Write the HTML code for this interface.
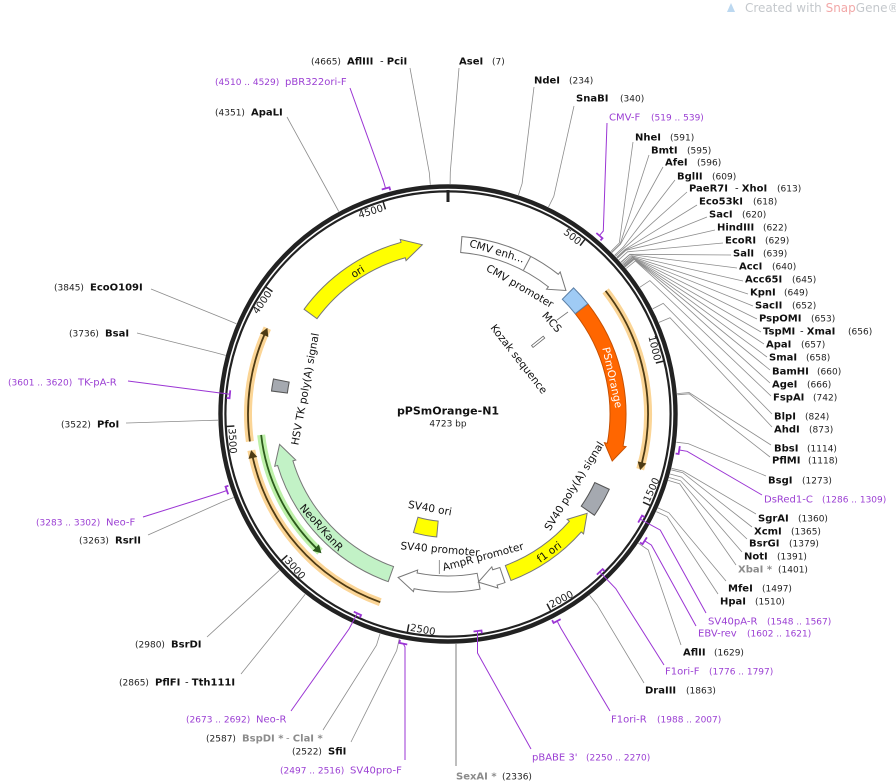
<!DOCTYPE html>
<html><head><meta charset="utf-8">
<style>
html,body{margin:0;padding:0;background:#fff}
svg{display:block}
text{font-family:"DejaVu Sans","Liberation Sans",sans-serif}
.n{font-size:10px;font-weight:bold;fill:#111}
.p{font-size:9px;fill:#222}
.pr{font-size:10px;fill:#9b3fd3}
.pp{font-size:9px;fill:#9b3fd3}
.g{font-size:10px;font-weight:bold;fill:#8c8c8c}
.f{font-size:10.5px;fill:#111}
.t{font-size:10px;fill:#222}
</style></head>
<body>
<svg width="896" height="784" viewBox="0 0 896 784" xmlns="http://www.w3.org/2000/svg">
<rect width="896" height="784" fill="#fff"/>

<!-- watermark -->
<path d="M727,12 L731,3 L735,12 Z" fill="#bcd8f0"/>
<text x="745" y="12" style="font-size:12px;fill:#c4c8cc">Created with <tspan style="fill:#f2a8a8">Snap</tspan>Gene®</text>

<!-- ORF halos and lines -->
<g fill="none">
  <circle cx="448" cy="414" r="200" stroke="#fbd596" stroke-width="8" stroke-dasharray="188.5 3000" transform="rotate(-38 448 414)"/>
  <circle cx="448" cy="414" r="200" stroke="#fbd596" stroke-width="8" stroke-dasharray="208.4 3000" transform="rotate(109.8 448 414)"/>
  <circle cx="448" cy="414" r="200" stroke="#fbd596" stroke-width="8" stroke-dasharray="116.2 3000" transform="rotate(172.1 448 414)"/>
  <circle cx="448" cy="414" r="188" stroke="#bdf0a8" stroke-width="8" stroke-dasharray="133.5 3000" transform="rotate(132.9 448 414)"/>
  <circle cx="448" cy="414" r="200" stroke="#4d3a14" stroke-width="1.8" stroke-dasharray="182.6 3000" transform="rotate(-38 448 414)"/>
  <circle cx="448" cy="414" r="200" stroke="#4d3a14" stroke-width="1.8" stroke-dasharray="201.8 3000" transform="rotate(109.8 448 414)"/>
  <circle cx="448" cy="414" r="200" stroke="#4d3a14" stroke-width="1.8" stroke-dasharray="109.6 3000" transform="rotate(172.1 448 414)"/>
  <circle cx="448" cy="414" r="188" stroke="#2c5a1c" stroke-width="1.8" stroke-dasharray="128.6 3000" transform="rotate(134.4 448 414)"/>
</g>
<path d="M447,209.5 L455,214 L447,218.5 Z" fill="#4d3a14" transform="rotate(104.3 448 414)"/>
<path d="M447,209.5 L455,214 L447,218.5 Z" fill="#4d3a14" transform="rotate(257.6 448 414)"/>
<path d="M447,209.5 L455,214 L447,218.5 Z" fill="#4d3a14" transform="rotate(293.5 448 414)"/>
<path d="M449,221.5 L441,226 L449,230.5 Z" fill="#2c5a1c" transform="rotate(224.4 448 414)"/>

<!-- Features -->
<g fill="none">
  <!-- CMV -->
  <circle cx="448" cy="414" r="170" stroke="#777" stroke-width="17" stroke-dasharray="100.85 3000" transform="rotate(-85.69 448 414)"/>
  <circle cx="448" cy="414" r="170" stroke="#fff" stroke-width="15" stroke-dasharray="100.44 3000" transform="rotate(-85.35 448 414)"/>
  <!-- ori -->
  <circle cx="448" cy="414" r="170" stroke="#777" stroke-width="17" stroke-dasharray="115.24 3000" transform="rotate(215.86 448 414)"/>
  <circle cx="448" cy="414" r="170" stroke="#ffff00" stroke-width="15" stroke-dasharray="114.83 3000" transform="rotate(216.2 448 414)"/>
  <!-- PSmOrange -->
  <circle cx="448" cy="414" r="170" stroke="#c85000" stroke-width="17" stroke-dasharray="144.79 3000" transform="rotate(-38.4 448 414)"/>
  <circle cx="448" cy="414" r="170" stroke="#ff6600" stroke-width="15" stroke-dasharray="144.35 3000" transform="rotate(-38.05 448 414)"/>
  <!-- MCS -->
  <circle cx="448" cy="414" r="170" stroke="#5b7fa6" stroke-width="17" stroke-dasharray="21.45 3000" transform="rotate(-45.29 448 414)"/>
  <circle cx="448" cy="414" r="170" stroke="#9fcbf5" stroke-width="15" stroke-dasharray="19.43 3000" transform="rotate(-44.95 448 414)"/>
  <!-- SV40 polyA -->
  <circle cx="448" cy="414" r="170" stroke="#555" stroke-width="17" stroke-dasharray="29.61 3000" transform="rotate(24.86 448 414)"/>
  <circle cx="448" cy="414" r="170" stroke="#a5a9b0" stroke-width="15" stroke-dasharray="27.59 3000" transform="rotate(25.2 448 414)"/>
  <!-- f1 ori -->
  <circle cx="448" cy="414" r="170" stroke="#777" stroke-width="17" stroke-dasharray="82.90 3000" transform="rotate(41.5 448 414)"/>
  <circle cx="448" cy="414" r="170" stroke="#ffff00" stroke-width="15" stroke-dasharray="82.49 3000" transform="rotate(41.3 448 414)"/>
  <!-- SV40 promoter -->
  <circle cx="448" cy="414" r="170" stroke="#777" stroke-width="17" stroke-dasharray="63.91 3000" transform="rotate(79.46 448 414)"/>
  <circle cx="448" cy="414" r="170" stroke="#fff" stroke-width="15" stroke-dasharray="63.50 3000" transform="rotate(79.8 448 414)"/>
  <!-- AmpR promoter -->
  <circle cx="448" cy="414" r="170" stroke="#777" stroke-width="17" stroke-dasharray="8.43 3000" transform="rotate(71.16 448 414)"/>
  <circle cx="448" cy="414" r="170" stroke="#fff" stroke-width="15" stroke-dasharray="8.01 3000" transform="rotate(71.5 448 414)"/>
  <!-- NeoR/KanR -->
  <circle cx="448" cy="414" r="170" stroke="#777" stroke-width="17" stroke-dasharray="159.45 3000" transform="rotate(109.46 448 414)"/>
  <circle cx="448" cy="414" r="170" stroke="#c2f2c6" stroke-width="15" stroke-dasharray="159.04 3000" transform="rotate(109.8 448 414)"/>
  <!-- HSV TK polyA -->
  <circle cx="448" cy="414" r="170" stroke="#555" stroke-width="17" stroke-dasharray="12.70 3000" transform="rotate(187.26 448 414)"/>
  <circle cx="448" cy="414" r="170" stroke="#a5a9b0" stroke-width="15" stroke-dasharray="10.68 3000" transform="rotate(187.6 448 414)"/>
  <!-- SV40 ori -->
  <circle cx="448" cy="414" r="115.5" stroke="#777" stroke-width="17" stroke-dasharray="23.18 3000" transform="rotate(95 448 414)"/>
  <circle cx="448" cy="414" r="115.5" stroke="#ffff00" stroke-width="15" stroke-dasharray="21.17 3000" transform="rotate(95.5 448 414)"/>
</g>
<!-- arrowheads -->
<path d="M448,236.5 L448,233 L464,244 L448,255 L448,251.5" fill="#fff" stroke="#777" stroke-width="1" transform="rotate(38.3 448 414)"/>
<line x1="448" y1="236.5" x2="448" y2="251.5" stroke="#777" stroke-width="1" transform="rotate(27.7 448 414)"/>
<path d="M448,236.5 L448,233 L467.9,244 L448,255 L448,251.5" fill="#ffff00" stroke="#777" stroke-width="1" transform="rotate(344.7 448 414)"/>
<path d="M448,236.5 L448,233 L464.6,244 L448,255 L448,251.5" fill="#ff6600" stroke="#c85000" stroke-width="1" transform="rotate(100.4 448 414)"/>
<path d="M448,236.5 L448,233 L430.2,244 L448,255 L448,251.5" fill="#ffff00" stroke="#777" stroke-width="1" transform="rotate(131.5 448 414)"/>
<path d="M448,236.5 L448,233 L465.8,244 L448,255 L448,251.5" fill="#fff" stroke="#777" stroke-width="1" transform="rotate(191 448 414)"/>
<path d="M448,236.5 L448,233 L465.2,244 L448,255 L448,251.5" fill="#fff" stroke="#777" stroke-width="1" transform="rotate(164 448 414)"/>
<path d="M448,236.5 L448,233 L467.6,244 L448,255 L448,251.5" fill="#c2f2c6" stroke="#777" stroke-width="1" transform="rotate(253.2 448 414)"/>
<!-- Kozak -->
<rect x="446.8" y="291" width="2.4" height="15" fill="#fff" stroke="#666" stroke-width="0.8" transform="rotate(51.3 448 414)"/>
<!-- small leaders -->
<line x1="557" y1="320" x2="568" y2="312" stroke="#777" stroke-width="0.8"/>
<line x1="439.3" y1="560" x2="439.3" y2="574" stroke="#777" stroke-width="0.8"/>

<!-- ring -->
<circle cx="448" cy="414" r="227.5" fill="none" stroke="#222" stroke-width="4.4"/>
<circle cx="448" cy="414" r="222.6" fill="none" stroke="#222" stroke-width="2.2"/>
<line x1="448" y1="190" x2="448" y2="202" stroke="#222" stroke-width="3"/>

<!-- ticks upright -->
<g transform="rotate(38.11 448 414)"><line x1="448" y1="192" x2="448" y2="200" stroke="#222" stroke-width="1.5"/><text class="t" x="446" y="201" text-anchor="end">500</text></g>
<g transform="rotate(76.22 448 414)"><line x1="448" y1="192" x2="448" y2="200" stroke="#222" stroke-width="1.5"/><text class="t" x="446" y="201" text-anchor="end">1000</text></g>
<g transform="rotate(-55.11 448 414)"><line x1="448" y1="192" x2="448" y2="200" stroke="#222" stroke-width="1.5"/><text class="t" x="446" y="201" text-anchor="end">4000</text></g>
<g transform="rotate(-17 448 414)"><line x1="448" y1="192" x2="448" y2="200" stroke="#222" stroke-width="1.5"/><text class="t" x="446" y="201" text-anchor="end">4500</text></g>
<!-- ticks flipped -->
<g transform="rotate(-65.67 448 414)"><line x1="448" y1="628" x2="448" y2="636" stroke="#222" stroke-width="1.5"/><text class="t" x="450" y="634">1500</text></g>
<g transform="rotate(-27.56 448 414)"><line x1="448" y1="628" x2="448" y2="636" stroke="#222" stroke-width="1.5"/><text class="t" x="450" y="634">2000</text></g>
<g transform="rotate(10.55 448 414)"><line x1="448" y1="628" x2="448" y2="636" stroke="#222" stroke-width="1.5"/><text class="t" x="450" y="634">2500</text></g>
<g transform="rotate(48.66 448 414)"><line x1="448" y1="628" x2="448" y2="636" stroke="#222" stroke-width="1.5"/><text class="t" x="450" y="634">3000</text></g>
<g transform="rotate(86.77 448 414)"><line x1="448" y1="628" x2="448" y2="636" stroke="#222" stroke-width="1.5"/><text class="t" x="450" y="634">3500</text></g>

<!-- enzyme leader lines -->
<g fill="none" stroke="#8c8c8c" stroke-width="0.8">
<polyline points="430.3,184.7 429.3,172.7 410,68"/>
<polyline points="450.1,184 450.3,172 459,68"/>
<polyline points="518.4,195.1 522.1,183.6 534,87"/>
<polyline points="548.5,207.1 553.8,196.4 574,106"/>
<polyline points="338.8,211.6 333.1,201.0 287,117"/>
<polyline points="610.8,251.5 619.3,243.0 633,142"/>
<polyline points="611.6,252.4 620.2,243.9 649,155"/>
<polyline points="611.8,252.6 620.4,244.2 663,167"/>
<polyline points="614.6,255.4 623.3,247.1 675,180"/>
<polyline points="615.4,256.3 624.2,248.1 687,192"/>
<polyline points="616.5,257.4 625.3,249.3 697,205"/>
<polyline points="616.9,257.9 625.7,249.7 707,217"/>
<polyline points="617.3,258.3 626.1,250.2 715,230"/>
<polyline points="618.7,259.9 627.6,251.8 723,243"/>
<polyline points="620.8,262.2 629.8,254.3 731,255"/>
<polyline points="621.0,262.4 630.0,254.5 737,268"/>
<polyline points="622.0,263.6 631.0,255.7 743,281"/>
<polyline points="622.8,264.5 631.9,256.7 748,294"/>
<polyline points="623.4,265.2 632.5,257.5 753,306"/>
<polyline points="623.6,265.4 632.7,257.7 757,319"/>
<polyline points="624.2,266.2 633.4,258.4 761,332"/>
<polyline points="624.4,266.4 633.6,258.7 764,344"/>
<polyline points="624.6,266.6 633.8,258.9 767,357"/>
<polyline points="625.0,267.1 634.2,259.4 770,370"/>
<polyline points="626.1,268.5 635.4,260.9 770,383"/>
<polyline points="639.9,287.2 649.9,280.6 771,396"/>
<polyline points="652.6,308.9 663.2,303.4 772,414"/>
<polyline points="659.0,322.4 670.0,317.7 772,427"/>
<polyline points="677.1,393.6 689.1,392.5 771,445"/>
<polyline points="677.2,394.8 689.2,393.8 770,457"/>
<polyline points="676.3,442.2 688.2,443.6 766,476"/>
<polyline points="671.5,468.3 683.2,471.1 756,514"/>
<polyline points="671.1,469.8 682.8,472.7 752,527"/>
<polyline points="670.0,474.0 681.6,477.1 747,539"/>
<polyline points="669.1,477.5 680.6,480.8 742,552"/>
<polyline points="668.2,480.4 679.7,483.9 736,565"/>
<polyline points="657.9,507.9 668.9,512.8 726,581"/>
<polyline points="656.3,511.6 667.2,516.7 718,594"/>
<polyline points="638.3,543.2 648.2,549.9 681,645"/>
<polyline points="589.6,595.2 597.0,604.7 644,683"/>
<polyline points="399.3,638.8 396.7,650.5 351,742"/>
<polyline points="380.0,633.7 376.5,645.2 323,730"/>
<polyline points="305.2,594.3 297.7,603.7 241,674"/>
<polyline points="279.4,570.4 270.6,578.6 207,637"/>
<polyline points="233.7,497.5 222.5,501.9 148,535"/>
<polyline points="218.1,420.2 206.1,420.5 126,423"/>
<polyline points="225.6,355.4 214.0,352.3 137,333"/>
<polyline points="236.4,323.8 225.4,319.1 151,289"/>
</g>
<line x1="456" y1="644" x2="456" y2="766" stroke="#a8a8a8" stroke-width="1.5"/>

<!-- primer lines -->
<g fill="none" stroke="#9b35d4" stroke-width="1">
<polyline points="599.4,235.6 603.3,231 607,123"/>
<polyline points="385.6,188.5 383.4,180.8 350,88"/>
<polyline points="679.2,450 687.1,451.3 762,495"/>
<polyline points="640.1,519.1 660.3,530.1 706,613"/>
<polyline points="644.7,540.8 651.4,545.1 696,626"/>
<polyline points="599.7,571.9 615.7,588.5 664,665"/>
<polyline points="557.1,621.0 560.8,628.1 610,711"/>
<polyline points="477.5,631 477.5,653 531,749"/>
<polyline points="403.3,643.7 405,647 405,760"/>
<polyline points="357.4,613.4 349,629 291,711"/>
<polyline points="226.9,490.5 219.3,493.1 143,517"/>
<polyline points="229.9,394.3 128,381"/>
</g>
<!-- primer brackets -->
<g fill="none" stroke="#9b35d4" stroke-width="1.8">
<path d="M444,180 L452,180 L452,183" transform="rotate(40.32 448 414)"/>
<path d="M444,180 L452,180 L452,183" transform="rotate(344.53 448 414)"/>
<path d="M444,180 L452,180 L452,183" transform="rotate(98.86 448 414)"/>
<path d="M444,192 L444,195 L452,195" transform="rotate(118.68 448 414)"/>
<path d="M444,180 L452,180 L452,183" transform="rotate(122.79 448 414)"/>
<path d="M444,192 L444,195 L452,195" transform="rotate(136.13 448 414)"/>
<path d="M444,180 L452,180 L452,183" transform="rotate(152.21 448 414)"/>
<path d="M444,192 L444,195 L452,195" transform="rotate(172.26 448 414)"/>
<path d="M444,180 L452,180 L452,183" transform="rotate(191.01 448 414)"/>
<path d="M444,192 L444,195 L452,195" transform="rotate(204.43 448 414)"/>
<path d="M444,180 L452,180 L452,183" transform="rotate(250.92 448 414)"/>
<path d="M444,192 L444,195 L452,195" transform="rotate(275.17 448 414)"/>
</g>

<!-- feature labels -->
<text class="f" x="497" y="251" dy=".35em" text-anchor="middle" transform="rotate(16.7 497 251)">CMV enh...</text>
<text class="f" x="520" y="286" dy=".35em" text-anchor="middle" transform="rotate(30 520 286)">CMV promoter</text>
<text class="f" x="552" y="322" dy=".35em" text-anchor="middle" transform="rotate(48 552 322)">MCS</text>
<text class="f" x="519" y="359" dy=".35em" text-anchor="middle" transform="rotate(52 519 359)">Kozak sequence</text>
<text class="f" x="612.5" y="377.5" dy=".35em" text-anchor="middle" transform="rotate(77.6 612.5 377.5)" style="fill:#fff">PSmOrange</text>
<text class="f" x="574" y="486" dy=".35em" text-anchor="middle" transform="rotate(-58 574 486)">SV40 poly(A) signal</text>
<text class="f" x="549" y="552" dy=".35em" text-anchor="middle" transform="rotate(-36 549 552)">f1 ori</text>
<text class="f" x="483" y="556.5" dy=".35em" text-anchor="middle" transform="rotate(-15 483 556.5)">AmpR promoter</text>
<text class="f" x="440" y="549" dy=".35em" text-anchor="middle" transform="rotate(5 440 549)">SV40 promoter</text>
<text class="f" x="430" y="508" dy=".35em" text-anchor="middle" transform="rotate(10 430 508)">SV40 ori</text>
<text class="f" x="321.5" y="527.5" dy=".35em" text-anchor="middle" transform="rotate(48 321.5 527.5)">NeoR/KanR</text>
<text class="f" x="305" y="389" dy=".35em" text-anchor="middle" transform="rotate(-79.5 305 389)">HSV TK poly(A) signal</text>
<text class="f" x="357.5" y="271.5" dy=".35em" text-anchor="middle" transform="rotate(-32.5 357.5 271.5)">ori</text>

<!-- center -->
<text x="448" y="414.5" text-anchor="middle" style="font-size:11px;font-weight:bold;fill:#111">pPSmOrange-N1</text>
<text x="448" y="426.7" text-anchor="middle" style="font-size:9px;fill:#222">4723 bp</text>

<!-- right labels -->
<text class="n" x="459" y="64.5">AseI</text><text class="p" x="492" y="64.5">(7)</text>
<text class="n" x="534" y="83.5">NdeI</text><text class="p" x="569" y="83.5">(234)</text>
<text class="n" x="576" y="101.5">SnaBI</text><text class="p" x="620" y="101.5">(340)</text>
<text class="pr" x="609" y="120.5">CMV-F</text><text class="pp" x="651" y="120.5">(519 .. 539)</text>
<text class="n" x="635" y="140.5">NheI</text><text class="p" x="670" y="140.5">(591)</text>
<text class="n" x="651" y="153.5">BmtI</text><text class="p" x="687" y="153.5">(595)</text>
<text class="n" x="665" y="165.5">AfeI</text><text class="p" x="697" y="165.5">(596)</text>
<text class="n" x="677" y="179.5">BglII</text><text class="p" x="712" y="179.5">(609)</text>
<text class="n" x="689" y="191.5">PaeR7I</text><text class="n" x="735" y="191.5"><tspan style="font-weight:normal">- </tspan>XhoI</text><text class="p" x="777" y="191.5">(613)</text>
<text class="n" x="699" y="204.5">Eco53kI</text><text class="p" x="753" y="204.5">(618)</text>
<text class="n" x="709" y="217.5">SacI</text><text class="p" x="742" y="217.5">(620)</text>
<text class="n" x="717" y="230.5">HindIII</text><text class="p" x="763" y="230.5">(622)</text>
<text class="n" x="725" y="243.5">EcoRI</text><text class="p" x="765" y="243.5">(629)</text>
<text class="n" x="733" y="256.5">SalI</text><text class="p" x="763" y="256.5">(639)</text>
<text class="n" x="739" y="269.5">AccI</text><text class="p" x="772" y="269.5">(640)</text>
<text class="n" x="745" y="282.5">Acc65I</text><text class="p" x="792" y="282.5">(645)</text>
<text class="n" x="750" y="295.5">KpnI</text><text class="p" x="784" y="295.5">(649)</text>
<text class="n" x="755" y="308.5">SacII</text><text class="p" x="792" y="308.5">(652)</text>
<text class="n" x="759" y="321.5">PspOMI</text><text class="p" x="811" y="321.5">(653)</text>
<text class="n" x="763" y="334.5">TspMI</text><text class="n" x="800" y="334.5"><tspan style="font-weight:normal">- </tspan>XmaI</text><text class="p" x="848" y="334.5">(656)</text>
<text class="n" x="766" y="347.5">ApaI</text><text class="p" x="801" y="347.5">(657)</text>
<text class="n" x="769" y="360.5">SmaI</text><text class="p" x="806" y="360.5">(658)</text>
<text class="n" x="772" y="374.5">BamHI</text><text class="p" x="817" y="374.5">(660)</text>
<text class="n" x="772" y="387.5">AgeI</text><text class="p" x="807" y="387.5">(666)</text>
<text class="n" x="773" y="400.5">FspAI</text><text class="p" x="813" y="400.5">(742)</text>
<text class="n" x="774" y="419.5">BlpI</text><text class="p" x="805" y="419.5">(824)</text>
<text class="n" x="774" y="432.5">AhdI</text><text class="p" x="809" y="432.5">(873)</text>
<text class="n" x="774" y="451.5">BbsI</text><text class="p" x="807" y="451.5">(1114)</text>
<text class="n" x="772" y="463.5">PflMI</text><text class="p" x="808" y="463.5">(1118)</text>
<text class="n" x="768" y="483.5">BsgI</text><text class="p" x="802" y="483.5">(1273)</text>
<text class="pr" x="764" y="502.5">DsRed1-C</text><text class="pp" x="822" y="502.5">(1286 .. 1309)</text>
<text class="n" x="758" y="521.5">SgrAI</text><text class="p" x="798" y="521.5">(1360)</text>
<text class="n" x="754" y="534.5">XcmI</text><text class="p" x="791" y="534.5">(1365)</text>
<text class="n" x="749" y="546.5">BsrGI</text><text class="p" x="789" y="546.5">(1379)</text>
<text class="n" x="744" y="559.5">NotI</text><text class="p" x="777" y="559.5">(1391)</text>
<text class="g" x="738" y="572.5">XbaI *</text><text class="p" x="778" y="572.5">(1401)</text>
<text class="n" x="728" y="591.5">MfeI</text><text class="p" x="762" y="591.5">(1497)</text>
<text class="n" x="720" y="604.5">HpaI</text><text class="p" x="755" y="604.5">(1510)</text>
<text class="pr" x="708" y="624.5">SV40pA-R</text><text class="pp" x="767" y="624.5">(1548 .. 1567)</text>
<text class="pr" x="698" y="636.5">EBV-rev</text><text class="pp" x="747" y="636.5">(1602 .. 1621)</text>
<text class="n" x="683" y="655.5">AflII</text><text class="p" x="714" y="655.5">(1629)</text>
<text class="pr" x="665" y="674.5">F1ori-F</text><text class="pp" x="709" y="674.5">(1776 .. 1797)</text>
<text class="n" x="645" y="693.5">DraIII</text><text class="p" x="686" y="693.5">(1863)</text>
<text class="pr" x="611" y="722.5">F1ori-R</text><text class="pp" x="657" y="722.5">(1988 .. 2007)</text>
<text class="pr" x="532" y="760.5">pBABE 3'</text><text class="pp" x="586" y="760.5">(2250 .. 2270)</text>
<text class="g" x="456" y="779.5">SexAI *</text><text class="p" x="502" y="779.5">(2336)</text>

<!-- left labels -->
<text class="p" x="311" y="64.5">(4665)</text><text class="n" x="347" y="64.5">AflIII</text><text class="n" x="380" y="64.5"><tspan style="font-weight:normal">- </tspan>PciI</text>
<text class="pp" x="215" y="85">(4510 .. 4529)</text><text class="pr" x="285" y="85">pBR322ori-F</text>
<text class="p" x="215" y="115.5">(4351)</text><text class="n" x="251" y="115.5">ApaLI</text>
<text class="p" x="54" y="290.5">(3845)</text><text class="n" x="90" y="290.5">EcoO109I</text>
<text class="p" x="69" y="336.5">(3736)</text><text class="n" x="105" y="336.5">BsaI</text>
<text class="pp" x="8" y="385.5">(3601 .. 3620)</text><text class="pr" x="78" y="385.5">TK-pA-R</text>
<text class="p" x="61" y="427.5">(3522)</text><text class="n" x="97" y="427.5">PfoI</text>
<text class="pp" x="36" y="525.5">(3283 .. 3302)</text><text class="pr" x="106" y="525.5">Neo-F</text>
<text class="p" x="79" y="543.5">(3263)</text><text class="n" x="115" y="543.5">RsrII</text>
<text class="p" x="135" y="647.5">(2980)</text><text class="n" x="171" y="647.5">BsrDI</text>
<text class="p" x="119" y="685.5">(2865)</text><text class="n" x="155" y="685.5">PflFI</text><text class="n" x="185" y="685.5"><tspan style="font-weight:normal">- </tspan>Tth111I</text>
<text class="pp" x="186" y="722.5">(2673 .. 2692)</text><text class="pr" x="256" y="722.5">Neo-R</text>
<text class="p" x="206" y="741.5">(2587)</text><text class="g" x="242" y="741.5">BspDI *</text><text class="g" x="286" y="741.5"><tspan style="font-weight:normal">- </tspan>ClaI *</text>
<text class="p" x="292" y="754.5">(2522)</text><text class="n" x="328" y="754.5">SfiI</text>
<text class="pp" x="280" y="773.5">(2497 .. 2516)</text><text class="pr" x="350" y="773.5">SV40pro-F</text>
</svg>
</body></html>
